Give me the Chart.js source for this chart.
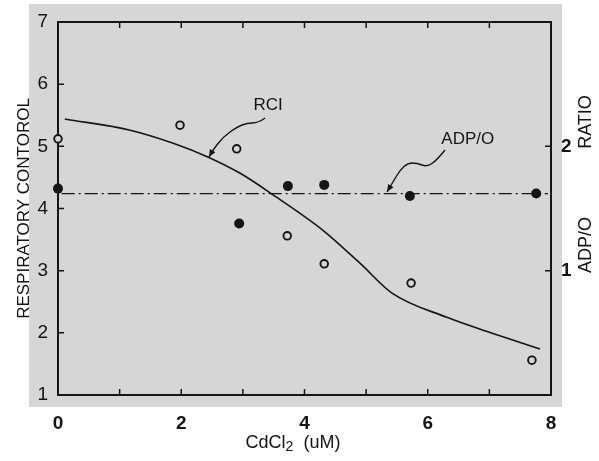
<!DOCTYPE html>
<html>
<head>
<meta charset="utf-8">
<script src="https://cdn.jsdelivr.net/npm/chart.js@4.4.1/dist/chart.umd.min.js"></script>
<style>
  html, body { margin: 0; padding: 0; background: #fff; }
  canvas { display: block; }
</style>
</head>
<body>
<canvas id="chart" width="599" height="461"></canvas>
<script>
// Values (x = CdCl2 in uM)
const rciX = [0, 1.98, 2.9, 3.72, 4.32, 5.73, 7.69];
const rciY = [5.12, 5.34, 4.96, 3.56, 3.11, 2.80, 1.56];

const adpX = [0, 2.94, 3.73, 4.32, 5.71, 7.76];
const adpY = [1.66, 1.38, 1.68, 1.69, 1.60, 1.62];

// hand-drawn RCI curve, read at several points
const curveX = [0.11, 1.17, 1.87, 2.43, 2.95, 3.49, 4.30, 4.90, 5.42, 6.31, 7.12, 7.82];
const curveY = [5.44, 5.26, 5.05, 4.83, 4.57, 4.22, 3.65, 3.12, 2.64, 2.25, 1.97, 1.74];

// dash-dot ADP/O level
const adpLevelX = [0.06, 7.95];
const adpLevel = 1.62;

const xLabels = [0, 2, 4, 6, 8];
const xMinor = [1, 2, 3, 4, 5, 6, 7];
const leftLabels = [1, 2, 3, 4, 5, 6, 7];
const leftMinor = [2, 3, 4, 5, 6];
const rightLabels = [1, 2];

// annotation anchors in data units (x, left axis)
const rciNote = {
  text: "RCI",
  at: [3.41, 5.665],
  path: [[3.36, 5.456], [3.245, 5.375], [3.067, 5.375], [2.905, 5.311], [2.678, 5.15], [2.515, 4.941], [2.45, 4.829]],
};
const adpNote = {
  text: "ADP/O",
  at: [6.65, 5.12],
  path: [[6.28, 4.941], [6.15, 4.78], [5.988, 4.668], [5.826, 4.732], [5.68, 4.732], [5.55, 4.619], [5.436, 4.426], [5.339, 4.266]],
};

const INK = "#151515";
const PAPER = "#d6d6d6";
const FONT = "'Liberation Sans', Arial, sans-serif";

const pts = (xs, ys) => xs.map((x, i) => ({ x, y: ys[i] }));

const paper = {
  id: "paper",
  beforeDraw(chart) {
    const c = chart.ctx;
    c.save();
    c.fillStyle = "#ffffff";
    c.fillRect(0, 0, chart.width, chart.height);
    c.fillStyle = PAPER;
    c.fillRect(29, 4, 533, 403);
    c.restore();
  },
  beforeDatasetsDraw(chart) {
    const { ctx: c, chartArea: a, scales } = chart;
    c.save();
    c.strokeStyle = INK;
    c.lineWidth = 2;
    c.strokeRect(a.left, a.top, a.right - a.left, a.bottom - a.top);
    c.lineWidth = 1.5;
    c.beginPath();
    xMinor.forEach((v) => {
      const x = scales.x.getPixelForValue(v);
      c.moveTo(x, a.bottom); c.lineTo(x, a.bottom - 6);
      c.moveTo(x, a.top); c.lineTo(x, a.top + 6);
    });
    leftMinor.forEach((v) => {
      const y = scales.y.getPixelForValue(v);
      c.moveTo(a.left, y); c.lineTo(a.left + 6, y);
    });
    rightLabels.forEach((v) => {
      const y = scales.y2.getPixelForValue(v);
      c.moveTo(a.right, y); c.lineTo(a.right - 6, y);
    });
    c.stroke();
    c.restore();
  },
  afterDatasetsDraw(chart) {
    const { ctx: c, scales } = chart;
    const P = ([x, y]) => [scales.x.getPixelForValue(x), scales.y.getPixelForValue(y)];
    c.save();
    c.fillStyle = INK;
    c.strokeStyle = INK;
    c.textBaseline = "middle";

    // right axis title, reads bottom to top
    c.font = "18px " + FONT;
    c.textAlign = "center";
    [["RATIO", 122], ["ADP/O", 245]].forEach(([t, y]) => {
      c.save();
      c.translate(586, y);
      c.rotate(-Math.PI / 2);
      c.fillText(t, 0, 0);
      c.restore();
    });

    // x axis title with a lowered 2
    c.textAlign = "left";
    const big = "18px " + FONT, small = "14px " + FONT;
    const parts = [["CdCl", big, 0], ["2", small, 4], ["  (uM)", big, 0]];
    let w = 0;
    parts.forEach(([t, f]) => { c.font = f; w += c.measureText(t).width; });
    let x0 = 293 - w / 2;
    parts.forEach(([t, f, dy]) => {
      c.font = f;
      c.fillText(t, x0, 443 + dy);
      x0 += c.measureText(t).width;
    });

    // notes with wavy arrows
    c.textAlign = "center";
    [rciNote, adpNote].forEach((note) => {
      c.font = "17px " + FONT;
      const [tx, ty] = P(note.at);
      c.fillText(note.text, tx, ty);
      const p = note.path.map(P);
      c.lineWidth = 1.4;
      c.beginPath();
      c.moveTo(p[0][0], p[0][1]);
      for (let i = 1; i < p.length - 1; i++) {
        const mx = (p[i][0] + p[i + 1][0]) / 2;
        const my = (p[i][1] + p[i + 1][1]) / 2;
        c.quadraticCurveTo(p[i][0], p[i][1], mx, my);
      }
      const end = p[p.length - 1];
      const prev = p[p.length - 2];
      c.lineTo(end[0], end[1]);
      c.stroke();
      const ang = Math.atan2(end[1] - prev[1], end[0] - prev[0]);
      c.beginPath();
      c.moveTo(end[0], end[1]);
      c.lineTo(end[0] - 8 * Math.cos(ang - 0.4), end[1] - 8 * Math.sin(ang - 0.4));
      c.lineTo(end[0] - 8 * Math.cos(ang + 0.4), end[1] - 8 * Math.sin(ang + 0.4));
      c.closePath();
      c.fill();
    });
    c.restore();
  },
};

new Chart(document.getElementById("chart"), {
  type: "scatter",
  data: {
    datasets: [
      {
        label: "ADP/O",
        data: pts(adpX, adpY),
        yAxisID: "y2",
        pointRadius: 5,
        pointBackgroundColor: INK,
        pointBorderColor: INK,
        pointBorderWidth: 0,
        clip: false,
      },
      {
        label: "RCI",
        data: pts(rciX, rciY),
        yAxisID: "y",
        pointRadius: 3.8,
        pointBackgroundColor: PAPER,
        pointBorderColor: INK,
        pointBorderWidth: 1.9,
        clip: false,
      },
      {
        label: "RCI curve",
        data: pts(curveX, curveY),
        yAxisID: "y",
        showLine: true,
        pointRadius: 0,
        borderColor: INK,
        borderWidth: 1.6,
        cubicInterpolationMode: "monotone",
        fill: false,
      },
      {
        label: "ADP/O level",
        data: adpLevelX.map((x) => ({ x, y: adpLevel })),
        yAxisID: "y2",
        showLine: true,
        pointRadius: 0,
        borderColor: INK,
        borderWidth: 1.3,
        borderDash: [13, 4, 2, 4],
        fill: false,
      },
    ],
  },
  options: {
    responsive: false,
    animation: false,
    devicePixelRatio: 1,
    layout: { padding: { top: 22, left: 0, right: 0, bottom: 0 } },
    plugins: { legend: { display: false }, tooltip: { enabled: false } },
    scales: {
      x: {
        type: "linear",
        min: 0,
        max: 8,
        grid: { display: false },
        border: { display: false },
        ticks: {
          stepSize: 1,
          autoSkip: false,
          maxRotation: 0,
          padding: 9,
          color: INK,
          font: { family: FONT, size: 19, weight: "bold" },
          callback: (v) => (xLabels.includes(v) ? String(v) : ""),
        },
        afterFit: (s) => { s.height = 66; },
      },
      y: {
        position: "left",
        min: 1,
        max: 7,
        grid: { display: false },
        border: { display: false },
        ticks: {
          stepSize: 1,
          padding: 2,
          color: INK,
          font: { family: FONT, size: 19 },
          callback: (v) => (leftLabels.includes(v) ? String(v) : ""),
        },
        title: {
          display: true,
          text: "RESPIRATORY CONTOROL",
          color: INK,
          font: { family: FONT, size: 17 },
          padding: { top: 14, bottom: 0 },
        },
        afterFit: (s) => { s.width = 58; },
      },
      y2: {
        position: "right",
        min: 0,
        max: 3,
        grid: { display: false },
        border: { display: false },
        ticks: {
          stepSize: 1,
          padding: 2,
          color: INK,
          font: { family: FONT, size: 19, weight: "bold" },
          callback: (v) => (rightLabels.includes(v) ? String(v) : ""),
        },
        afterFit: (s) => { s.width = 48; },
      },
    },
  },
  plugins: [paper],
});
</script>
</body>
</html>
